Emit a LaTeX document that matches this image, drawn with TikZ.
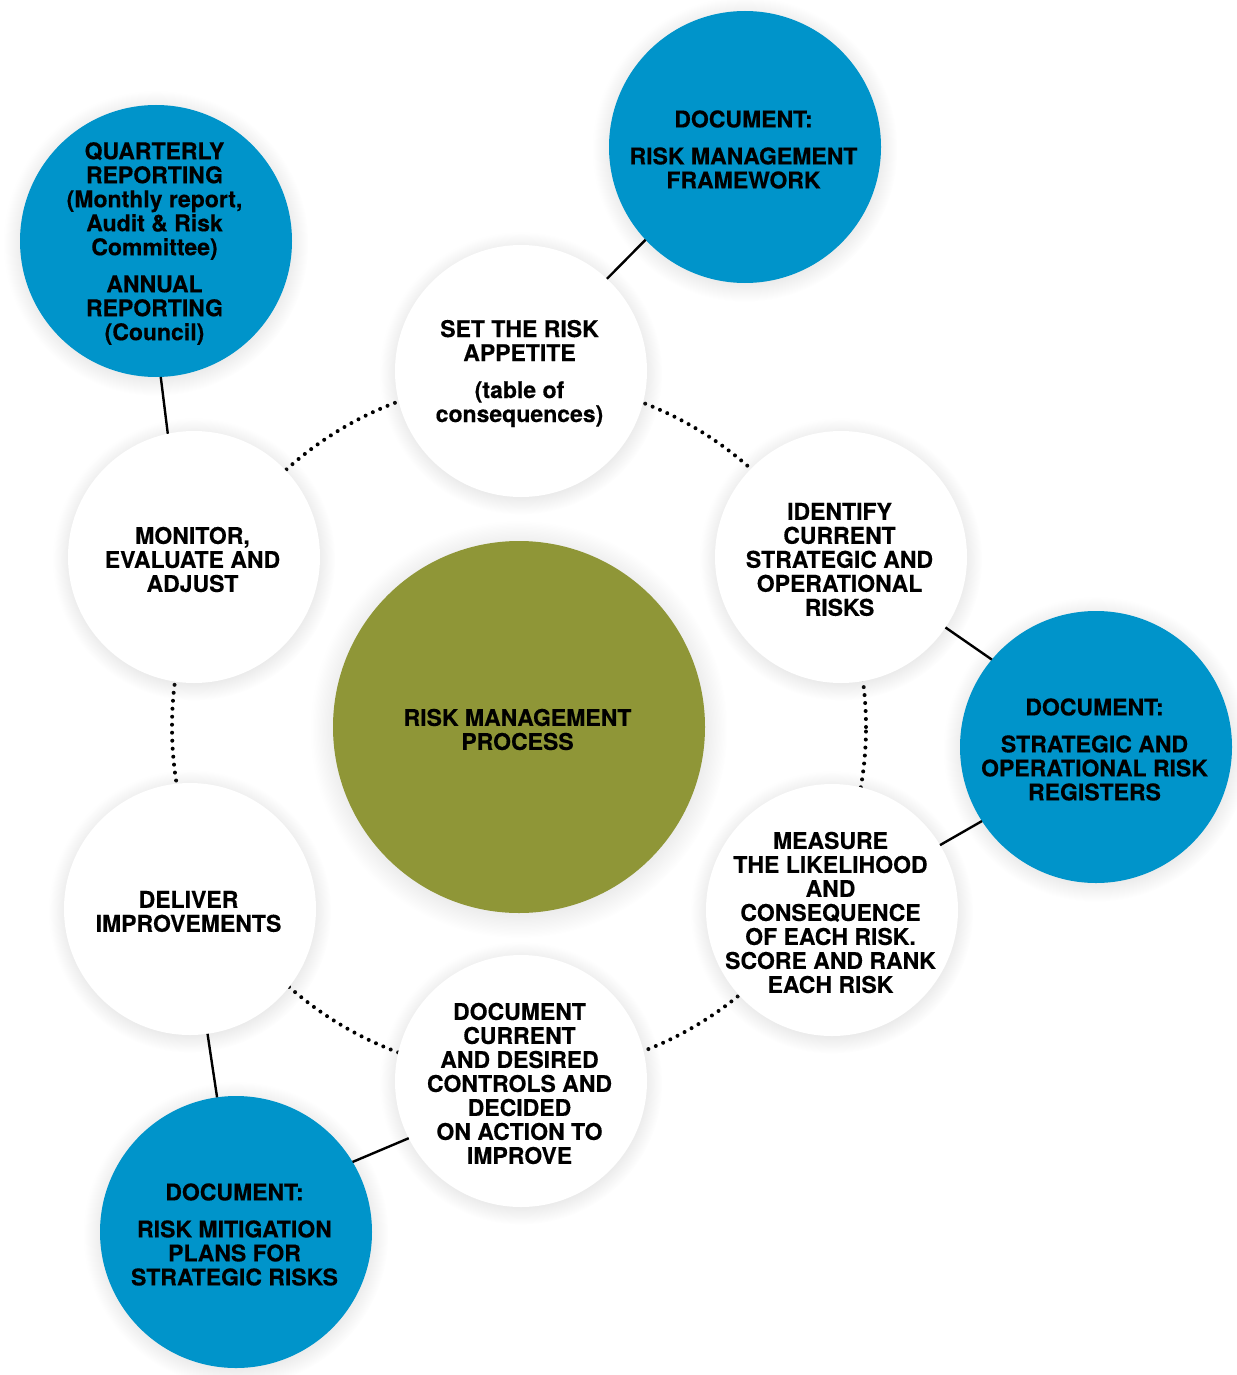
\documentclass[tikz,border=0pt]{standalone}
\usepackage{fontspec}
\setmainfont{TeX Gyre Heros}[BoldFeatures={FakeBold=0.35}]
\usetikzlibrary{shadows,fadings}
\definecolor{blueC}{RGB}{0,148,202}
\definecolor{greenC}{RGB}{143,150,55}
\begin{document}
\begin{tikzpicture}[x=1pt,y=-1pt,
  txt/.style={align=center,font=\fontsize{23}{24}\selectfont\bfseries,inner sep=0pt,xshift=-1.5pt,yshift=-2.5pt},
  base/.style={circle,inner sep=0pt,outer sep=0pt,
     circular drop shadow={shadow xshift=0pt,shadow yshift=-2pt,shadow scale=1.12,opacity=0.25,path fading=circle with fuzzy edge 20 percent}},
  proc/.style={base,fill=white,minimum size=252pt},
  docu/.style={base,fill=blueC,minimum size=272pt},
  hub/.style={base,fill=greenC,minimum size=372pt},
  conn/.style={line width=2.4pt,black},
  ring/.style={line width=4pt,line cap=round,dash pattern=on 0pt off 8pt}
]
\useasboundingbox (0,0) rectangle (1236,1375);
\coordinate (ctr) at (519,727);
\draw[ring] (ctr) circle[radius=347pt];

% centre
\node[hub] (hub) at (ctr) {};
\node[txt] (hub-t) at (hub) {RISK MANAGEMENT\\PROCESS};

% process steps
\node[proc] (set) at (521,371) {};
\node[txt] (set-t) at (set) {SET THE RISK\\APPETITE\\[13pt](table of\\consequences)};
\node[proc] (identify) at (841,557) {};
\node[txt] (identify-t) at (identify) {IDENTIFY\\CURRENT\\STRATEGIC AND\\OPERATIONAL\\RISKS};
\node[proc] (measure) at (832,910) {};
\node[txt] (measure-t) at (measure) {MEASURE\\THE LIKELIHOOD\\AND\\CONSEQUENCE\\OF EACH RISK.\\SCORE AND RANK\\EACH RISK};
\node[proc] (document) at (521,1081) {};
\node[txt] (document-t) at (document) {DOCUMENT\\CURRENT\\AND DESIRED\\CONTROLS AND\\DECIDED\\ON ACTION TO\\IMPROVE};
\node[proc] (deliver) at (190,909) {};
\node[txt] (deliver-t) at (deliver) {DELIVER\\IMPROVEMENTS};
\node[proc] (monitor) at (194,557) {};
\node[txt] (monitor-t) at (monitor) {MONITOR,\\EVALUATE AND\\ADJUST};

% documents
\node[docu] (tr) at (745,147) {};
\node[txt] (tr-t) at (tr) {DOCUMENT:\\[13pt]RISK MANAGEMENT\\FRAMEWORK};
\node[docu] (tl) at (156,241) {};
\node[txt] (tl-t) at (tl) {QUARTERLY\\REPORTING\\(Monthly report,\\Audit \& Risk\\Committee)\\[13pt]ANNUAL\\REPORTING\\(Council)};
\node[docu] (rb) at (1096,747) {};
\node[txt] (rb-t) at (rb) {DOCUMENT:\\[13pt]STRATEGIC AND\\OPERATIONAL RISK\\REGISTERS};
\node[docu] (bl) at (236,1232) {};
\node[txt] (bl-t) at (bl) {DOCUMENT:\\[13pt]RISK MITIGATION\\PLANS FOR\\STRATEGIC RISKS};

% connectors
\draw[conn] (set.47) -- (tr.223);
\draw[conn] (monitor.102) -- (tl.272);
\draw[conn] (identify.-34) -- (rb.140);
\draw[conn] (measure.31) -- (rb.213);
\draw[conn] (deliver.-82) -- (bl.98);
\draw[conn] (document.207) -- (bl.31);
\end{tikzpicture}
\end{document}
